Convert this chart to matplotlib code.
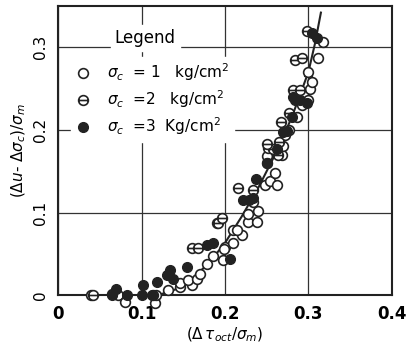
import numpy as np
import matplotlib.pyplot as plt
from matplotlib.path import Path

# sigma_c = 1 kg/cm2 (open circles)
x1 = [0.040, 0.072, 0.080, 0.116, 0.117, 0.132, 0.146, 0.146, 0.160, 0.156, 0.166, 0.170,
      0.178, 0.186, 0.198, 0.200, 0.210, 0.210, 0.220, 0.228, 0.228, 0.238, 0.240, 0.234,
      0.248, 0.254, 0.260, 0.262, 0.250, 0.268, 0.270, 0.272, 0.277, 0.286, 0.292, 0.300,
      0.302, 0.304, 0.300, 0.312, 0.317, 0.190, 0.214, 0.199]
y1 = [0.000, 0.000, -0.008, -0.010, 0.000, 0.006, 0.010, 0.015, 0.012, 0.018, 0.020, 0.026,
      0.038, 0.047, 0.042, 0.058, 0.063, 0.079, 0.073, 0.089, 0.098, 0.089, 0.102, 0.113,
      0.133, 0.138, 0.148, 0.133, 0.168, 0.170, 0.180, 0.194, 0.200, 0.216, 0.230, 0.236,
      0.250, 0.258, 0.270, 0.287, 0.307, 0.087, 0.079, 0.056]

# sigma_c = 2 kg/cm2 (circle with bar)
x2 = [0.042, 0.065, 0.114, 0.160, 0.168, 0.192, 0.216, 0.234, 0.250, 0.252, 0.265, 0.267,
      0.277, 0.282, 0.290, 0.284, 0.292, 0.298, 0.263, 0.257, 0.250, 0.197]
y2 = [0.000, 0.001, 0.000, 0.057, 0.057, 0.087, 0.130, 0.127, 0.160, 0.178, 0.185, 0.210,
      0.220, 0.248, 0.248, 0.285, 0.287, 0.320, 0.170, 0.177, 0.183, 0.093]

# sigma_c = 3 kg/cm2 (filled circles)
x3 = [0.070, 0.065, 0.083, 0.102, 0.118, 0.130, 0.138, 0.154, 0.134, 0.178, 0.186, 0.206,
      0.229, 0.222, 0.234, 0.237, 0.250, 0.262, 0.270, 0.274, 0.280, 0.284, 0.290, 0.298,
      0.304, 0.310, 0.282, 0.100, 0.112]
y3 = [0.007, 0.000, 0.000, 0.012, 0.016, 0.024, 0.020, 0.034, 0.030, 0.061, 0.063, 0.044,
      0.115, 0.115, 0.118, 0.140, 0.160, 0.177, 0.197, 0.199, 0.216, 0.236, 0.236, 0.232,
      0.317, 0.311, 0.240, 0.000, 0.000]

# trend line through the data
lx = [0.0, 0.120, 0.150, 0.180, 0.200, 0.220, 0.240, 0.260, 0.280, 0.300, 0.308, 0.315]
ly = [0.0, 0.000, 0.010, 0.038, 0.063, 0.095, 0.130, 0.170, 0.215, 0.270, 0.305, 0.342]

theta = Path.unit_circle()
bar = Path([(-1, 0), (1, 0)], [Path.MOVETO, Path.LINETO])
circ_bar = Path.make_compound_path(theta, bar)

fig = plt.figure(figsize=(4.09, 3.53), dpi=100)
ax = fig.add_axes([0.142, 0.164, 0.816, 0.819])

ax.grid(color="#333333", linewidth=0.9)
ax.set_axisbelow(True)

ax.plot(lx, ly, color="#222222", linewidth=1.5, zorder=2)
ax.plot([0.300], [0.270], marker="^", color="#222222", markersize=6, zorder=2)

ms = 7
ax.plot(x1, y1, "o", mfc="white", mec="#222222", mew=1.2, ms=ms, ls="none",
        label="$\\sigma_c$  = 1   kg/cm$^2$", zorder=3, clip_on=False)
ax.plot(x2, y2, ls="none", marker=circ_bar, mfc="white", mec="#222222", mew=1.2, ms=ms,
        label="$\\sigma_c$  =2   kg/cm$^2$", zorder=3, clip_on=False)
ax.plot(x3, y3, "o", mfc="#222222", mec="#222222", mew=1.0, ms=ms, ls="none",
        label="$\\sigma_c$  =3  Kg/cm$^2$", zorder=3, clip_on=False)

ax.set_xlim(0, 0.4)
ax.set_ylim(0, 0.35)
ax.set_xticks([0, 0.1, 0.2, 0.3, 0.4])
ax.set_xticklabels(["0", "0.1", "0.2", "0.3", "0.4"], fontsize=12, fontweight="bold")
ax.set_yticks([0, 0.1, 0.2, 0.3])
ax.set_yticklabels(["0", "0.1", "0.2", "0.3"], fontsize=11, rotation=90, va="center")
ax.tick_params(length=0, pad=7)

for s in ax.spines.values():
    s.set_linewidth(1.5)
    s.set_color("#222222")

ax.set_xlabel("($\\Delta\\,\\tau_{oct}/\\sigma_m$)", fontsize=11, labelpad=2)
ax.set_ylabel("($\\Delta u$- $\\Delta\\sigma_c$)/$\\sigma_m$", fontsize=11, labelpad=4)

leg = ax.legend(loc="upper left", bbox_to_anchor=(0.015, 0.85), frameon=True,
                fontsize=11, handletextpad=1.1, labelspacing=0.35, borderpad=0.3,
                handlelength=1.0)
leg.get_frame().set_facecolor("white")
leg.get_frame().set_edgecolor("white")
leg.get_frame().set_alpha(1)
ax.text(0.17, 0.89, "Legend", transform=ax.transAxes, fontsize=12, va="center",
        bbox=dict(facecolor="white", edgecolor="white", pad=3), zorder=5)

plt.savefig("out.png", dpi=100)
